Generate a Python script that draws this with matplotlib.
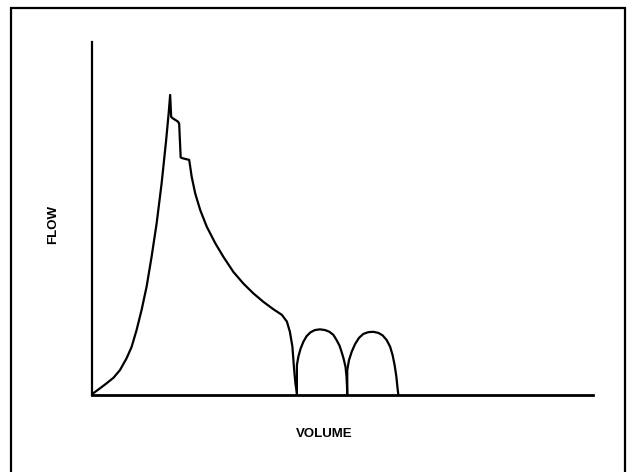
import matplotlib.pyplot as plt
from matplotlib.patches import Rectangle

# flow-volume trace (volume 0-100, flow 0-100)
main_volume = [0, 0.26, 1.6, 2.9, 4.3, 5.6, 6.9, 7.9, 8.9, 9.9, 10.9, 11.9, 12.9, 13.9, 14.8, 15.3, 15.6,
               15.8, 16.0, 17.2, 17.4, 17.7, 18.0, 19.4,
               19.9, 20.6, 21.6, 22.9, 24.6, 26.2, 28.2, 30.2, 32.2, 34.2, 36.2, 37.9, 38.9,
               39.5, 40.0, 40.3, 40.6, 40.9, 40.9]
main_flow = [0, 0.5, 1.9, 3.3, 4.9, 7.1, 10.4, 13.6, 18.4, 24.1, 30.7, 39.2, 48.6, 60.0, 72.2, 79.8, 85.0,
             78.8, 78.5, 77.4, 76.8, 67.3, 67.1, 66.6,
             61.8, 57.1, 52.4, 47.7, 43.0, 39.2, 34.9, 31.6, 28.8, 26.4, 24.3, 22.7, 20.8,
             17.9, 13.7, 8.0, 3.3, 0.5, 0]

hump1_volume = [40.9, 40.9, 41.2, 41.65, 42.2, 42.85, 43.65, 44.5, 45.5, 46.5, 47.4, 48.2, 48.8,
                49.4, 49.8, 50.2, 50.6, 50.8, 50.9, 50.95]
hump1_flow = [0, 8.5, 10.9, 13.2, 15.1, 16.7, 17.8, 18.4, 18.6, 18.4, 17.9, 17.0, 15.6,
              14.0, 12.3, 10.4, 8.0, 5.2, 2.4, 0]

hump2_volume = [50.95, 50.95, 51.3, 51.85, 52.5, 53.3, 54.15, 55.15, 56.15, 57.15, 58.0, 58.8,
                59.5, 60.0, 60.4, 60.75, 60.95, 61.15]
hump2_flow = [0, 7.1, 9.9, 12.3, 14.4, 16.2, 17.3, 17.8, 17.9, 17.6, 16.9, 15.6,
              13.7, 11.3, 8.5, 5.2, 2.4, 0]

W, H = 631, 472
fig = plt.figure(figsize=(W / 100, H / 100), dpi=100)

# frame round the whole drawing (open at the bottom edge)
fig.patches.append(Rectangle((11 / W, -0.05), (625 - 11) / W, 1.05 - 8 / H,
                             transform=fig.transFigure, fill=False,
                             edgecolor='black', linewidth=1.6))

ax = fig.add_axes([92 / W, (H - 395) / H, (593 - 92) / W, (395 - 42) / H])
for v, f in [(main_volume, main_flow), (hump1_volume, hump1_flow), (hump2_volume, hump2_flow)]:
    ax.plot(v, f, color='black', linewidth=1.6, solid_joinstyle='round')

ax.set_xlim(0, 100)
ax.set_ylim(0, 100)
ax.spines['top'].set_visible(False)
ax.spines['right'].set_visible(False)
ax.spines['left'].set_linewidth(1.6)
ax.spines['bottom'].set_linewidth(2.0)
ax.set_xticks([])
ax.set_yticks([])

fig.text(324 / W, 1 - 434 / H, 'VOLUME', ha='center', va='center',
         fontsize=9.5, fontweight='bold', family='Liberation Sans')
fig.text(53 / W, 1 - 224 / H, 'FLOW', ha='center', va='center', rotation=90,
         fontsize=9.5, fontweight='bold', family='Liberation Sans')

fig.savefig('out.png', dpi=100)
